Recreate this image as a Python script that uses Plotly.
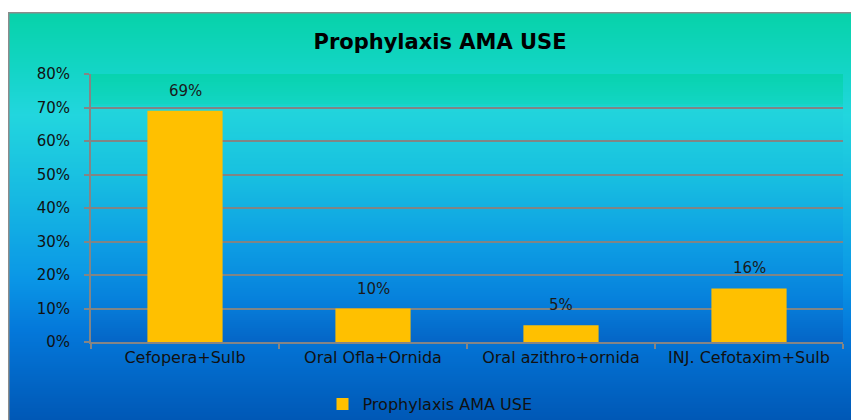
import plotly.graph_objects as go

# ---- data ----
categories = ["Cefopera+Sulb", "Oral Ofla+Ornida", "Oral azithro+ornida", "INJ. Cefotaxim+Sulb"]
values = [0.69, 0.10, 0.05, 0.16]
value_labels = ["69%", "10%", "5%", "16%"]
series_name = "Prophylaxis AMA USE"
title_text = "Prophylaxis AMA USE"

# ---- layout geometry (figure pixels; page = figure + 8px body margin) ----
OFF = 8
W, H = 851, 412
L, R, T, B = 91 - OFF, 16, 74 - OFF, 78
PW, PH = W - L - R, H - T - B


def px2x(px):  # page px -> paper x
    return (px - OFF - L) / PW


def px2y(py):  # page px -> paper y
    return (H - B - (py - OFF)) / PH


def hex2rgb(h):
    h = h.lstrip("#")
    return tuple(int(h[i:i + 2], 16) for i in (0, 2, 4))


def interp(stops, y):
    if y <= stops[0][0]:
        return stops[0][1]
    for (y0, c0), (y1, c1) in zip(stops, stops[1:]):
        if y0 <= y <= y1:
            t = (y - y0) / (y1 - y0) if y1 > y0 else 0
            a, b = hex2rgb(c0), hex2rgb(c1)
            r = [round(a[i] + (b[i] - a[i]) * t) for i in range(3)]
            return "rgb(%d,%d,%d)" % tuple(r)
    return stops[-1][1]


outer_stops = [(12, "#07d2a8"), (70, "#13d5c6"), (115, "#22d6de"), (200, "#16b8e2"),
               (280, "#0a96e6"), (330, "#0478da"), (420, "#0058b6")]
plot_stops = [(74, "#08d3ae"), (104, "#12d5c4"), (108, "#22d5dc"), (175, "#18c0e0"),
              (240, "#0ea0e4"), (300, "#0680dc"), (342, "#0565c6")]

shapes = []
step = 2
# outer chart-area gradient (page coordinates)
for py in range(12, 422, step):
    shapes.append(dict(type="rect", xref="paper", yref="paper", layer="below",
                       x0=px2x(8), x1=px2x(880), y0=px2y(py + step + 1.5), y1=px2y(py),
                       fillcolor=interp(outer_stops, py + step / 2), line=dict(width=0)))
# plot-area gradient
for py in range(74, 342, step):
    shapes.append(dict(type="rect", xref="paper", yref="paper", layer="below",
                       x0=0, x1=1, y0=px2y(min(py + step + 1.5, 342)), y1=px2y(py),
                       fillcolor=interp(plot_stops, py + step / 2), line=dict(width=0)))
# outer border
shapes.append(dict(type="rect", xref="paper", yref="paper", layer="below",
                   x0=px2x(8.75), x1=px2x(880), y0=px2y(440), y1=px2y(12.75),
                   fillcolor="rgba(0,0,0,0)", line=dict(color="#8c8c8c", width=1.5)))

fig = go.Figure()
fig.add_trace(go.Bar(x=categories, y=values, name=series_name,
                     marker=dict(color="#FFC000", line=dict(width=0)),
                     showlegend=True))

annotations = [dict(x=c, y=v, xref="x", yref="y", text=t, showarrow=False,
                    yanchor="bottom", yshift=9,
                    font=dict(family="DejaVu Sans", size=15, color="#1a1a1a"))
               for c, v, t in zip(categories, values, value_labels)]

fig.update_layout(
    width=W, height=H,
    margin=dict(l=L, r=R, t=T, b=B, pad=0, autoexpand=False),
    paper_bgcolor="white",
    plot_bgcolor="rgba(0,0,0,0)",
    bargap=0.6,
    shapes=shapes,
    annotations=annotations,
    title=dict(text="<b>%s</b>" % title_text, x=(440 - OFF) / W, xanchor="center",
               y=1 - (42 - OFF) / H, yanchor="middle",
               font=dict(family="DejaVu Sans", size=21, color="#000000")),
    legend=dict(orientation="h", xref="container", yref="container",
                x=(430 - OFF) / W, xanchor="center",
                y=1 - (404 - OFF) / H, yanchor="middle",
                bgcolor="rgba(0,0,0,0)",
                font=dict(family="DejaVu Sans", size=16, color="#111111"),
                itemwidth=30),
    xaxis=dict(showline=True, linecolor="#858585", linewidth=2,
               ticks="outside", tickson="boundaries", ticklen=5, tickwidth=2,
               tickcolor="#858585", showgrid=False, automargin=False,
               tickfont=dict(family="DejaVu Sans", size=16, color="#111111")),
    yaxis=dict(range=[0, 0.8], dtick=0.1, tickformat=".0%",
               showline=True, linecolor="#858585", linewidth=2,
               ticks="outside", ticklen=5, tickwidth=2, tickcolor="#858585",
               showgrid=True, gridcolor="#808585", gridwidth=2,
               zeroline=False, ticklabelstandoff=11, automargin=False,
               tickfont=dict(family="DejaVu Sans", size=15, color="#111111")),
)

fig.write_html("out.html")
